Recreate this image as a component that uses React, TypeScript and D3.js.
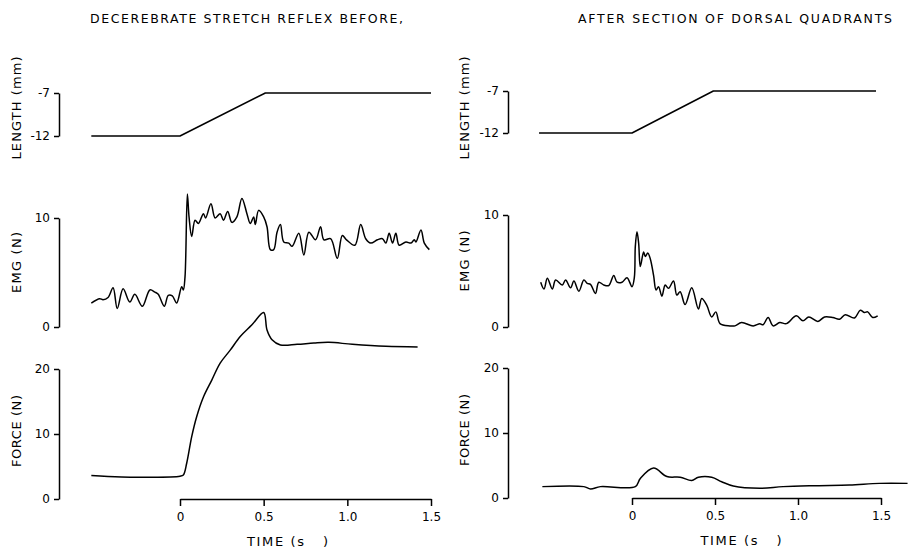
import React, { useEffect, useRef } from "react";
import * as d3 from "d3";

// ---------- DATA ----------
const titles = ["DECEREBRATE STRETCH REFLEX BEFORE,", "AFTER SECTION OF DORSAL QUADRANTS"];
const timeTicks = [0, 0.5, 1.0, 1.5];
const timeTickLabels = ["0", "0.5", "1.0", "1.5"];
const lengthTicks = [-7, -12];
const emgTicks = [10, 0];
const forceTicks = [20, 10, 0];

// Left (before)
const leftLengthTime = [-0.53, 0, 0.51, 1.5];
const leftLengthValue = [-12, -12, -7, -7];
const leftEmgTime = [-0.53, -0.48, -0.46, -0.43, -0.4, -0.375, -0.34, -0.3, -0.27, -0.225, -0.18, -0.15, -0.13, -0.094, -0.07, -0.046, -0.02, 0.01, 0.02, 0.03, 0.044, 0.054, 0.07, 0.09, 0.11, 0.14, 0.153, 0.185, 0.21, 0.24, 0.26, 0.285, 0.31, 0.34, 0.37, 0.4, 0.42, 0.44, 0.45, 0.47, 0.5, 0.52, 0.54, 0.56, 0.58, 0.6, 0.62, 0.65, 0.67, 0.71, 0.74, 0.77, 0.81, 0.84, 0.86, 0.9, 0.94, 0.97, 0.995, 1.045, 1.08, 1.11, 1.14, 1.18, 1.21, 1.23, 1.25, 1.27, 1.29, 1.31, 1.35, 1.38, 1.4, 1.41, 1.44, 1.46, 1.49];
const leftEmgValue = [2.2, 2.6, 2.5, 2.7, 3.6, 1.7, 3.5, 2.3, 3.0, 1.9, 3.4, 3.2, 3.0, 1.9, 2.9, 2.85, 2.2, 3.7, 3.4, 4.6, 12.2, 10.1, 8.3, 9.8, 9.5, 10.4, 10.0, 11.3, 10.0, 10.4, 9.8, 10.6, 9.6, 10.1, 11.8, 10.4, 9.5, 10.1, 9.4, 10.7, 10.1, 9.2, 7.1, 7.1, 8.7, 9.4, 7.8, 7.7, 7.4, 8.6, 6.6, 8.7, 8.0, 9.2, 8.0, 8.1, 6.3, 8.4, 8.0, 7.5, 9.4, 8.1, 7.7, 8.0, 8.1, 7.7, 8.6, 7.7, 8.6, 7.5, 7.8, 7.7, 8.0, 7.8, 8.9, 7.7, 7.1];
const leftForceTime = [-0.53, -0.35, 0.0, 0.02, 0.04, 0.07, 0.1, 0.14, 0.19, 0.24, 0.3, 0.36, 0.43, 0.5, 0.52, 0.55, 0.6, 0.7, 0.8, 0.89, 1.03, 1.23, 1.42];
const leftForceValue = [3.6, 3.4, 3.5, 3.7, 5.5, 9.6, 12.7, 15.7, 18.3, 20.9, 22.9, 25.0, 26.8, 28.7, 26.0, 24.5, 23.7, 23.8, 24.0, 24.1, 23.8, 23.5, 23.4];

// Right (after)
const rightLengthTime = [-0.56, 0, 0.49, 1.47];
const rightLengthValue = [-12, -12, -7, -7];
const rightEmgTime = [-0.55, -0.53, -0.51, -0.48, -0.46, -0.42, -0.4, -0.37, -0.35, -0.32, -0.29, -0.27, -0.25, -0.22, -0.2, -0.17, -0.14, -0.11, -0.09, -0.06, -0.03, 0.0, 0.014, 0.02, 0.03, 0.04, 0.05, 0.07, 0.08, 0.095, 0.11, 0.13, 0.145, 0.16, 0.18, 0.2, 0.22, 0.25, 0.27, 0.29, 0.32, 0.36, 0.4, 0.42, 0.45, 0.48, 0.505, 0.53, 0.59, 0.62, 0.66, 0.73, 0.77, 0.79, 0.82, 0.85, 0.89, 0.93, 0.99, 1.03, 1.065, 1.12, 1.16, 1.21, 1.25, 1.285, 1.34, 1.375, 1.4, 1.42, 1.45, 1.48];
const rightEmgValue = [4.0, 3.4, 4.35, 3.4, 4.2, 3.75, 4.2, 3.5, 4.1, 3.2, 4.2, 3.9, 3.8, 3.0, 4.0, 3.75, 3.7, 4.6, 4.0, 4.0, 4.4, 3.6, 4.4, 7.2, 8.5, 7.5, 5.4, 6.7, 6.3, 6.6, 6.1, 4.6, 3.3, 3.6, 2.75, 3.75, 3.45, 4.1, 2.85, 3.15, 2.0, 3.5, 1.6, 2.55, 1.95, 0.9, 1.35, 0.3, 0.1, 0.1, 0.4, 0.1, 0.3, 0.2, 0.85, 0.1, 0.4, 0.3, 1.0, 0.55, 0.9, 0.5, 0.9, 0.85, 0.7, 1.1, 0.8, 1.5, 1.3, 1.35, 0.85, 1.0];
const rightForceTime = [-0.54, -0.29, -0.25, -0.19, 0.02, 0.05, 0.13, 0.21, 0.29, 0.36, 0.4, 0.48, 0.54, 0.61, 0.77, 0.91, 1.11, 1.31, 1.49, 1.66];
const rightForceValue = [1.75, 1.75, 1.4, 1.75, 1.75, 3.0, 4.6, 3.3, 3.2, 2.7, 3.2, 3.2, 2.5, 1.85, 1.5, 1.75, 1.9, 2.0, 2.25, 2.25];

// ---------- LAYOUT ----------
type Panel = {
  title: string; titleX: number; titleW: number;
  axisX: number; labelX: number;
  x0: number; x15: number;
  len: [number, number]; emg: [number, number]; force: [number, number];
  timeAxisY: number; timeLabelX: number;
  lt: number[]; lv: number[]; et: number[]; ev: number[]; ft: number[]; fv: number[];
};

const panels: Panel[] = [
  {
    title: titles[0], titleX: 90, titleW: 313, axisX: 59, labelX: 16,
    x0: 180, x15: 431, len: [136, 93], emg: [327, 218], force: [499, 369],
    timeAxisY: 499, timeLabelX: 287.5,
    lt: leftLengthTime, lv: leftLengthValue, et: leftEmgTime, ev: leftEmgValue,
    ft: leftForceTime, fv: leftForceValue,
  },
  {
    title: titles[1], titleX: 578, titleW: 314, axisX: 508, labelX: 464,
    x0: 632, x15: 881, len: [133, 91], emg: [327, 215], force: [498, 368],
    timeAxisY: 498, timeLabelX: 741,
    lt: rightLengthTime, lv: rightLengthValue, et: rightEmgTime, ev: rightEmgValue,
    ft: rightForceTime, fv: rightForceValue,
  },
];

const FONT = "'DejaVu Sans', 'Liberation Sans', sans-serif";

function drawPanel(svg: any, p: Panel) {
  const g = svg.append("g");
  const xs = d3.scaleLinear().domain([0, 1.5]).range([p.x0, p.x15]);
  const yl = d3.scaleLinear().domain([-12, -7]).range(p.len);
  const ye = d3.scaleLinear().domain([0, 10]).range(p.emg);
  const yf = d3.scaleLinear().domain([0, 20]).range(p.force);

  // title
  g.append("text").attr("x", p.titleX).attr("y", 23).attr("font-size", 12.5).attr("font-family", FONT)
    .attr("textLength", p.titleW).attr("lengthAdjust", "spacing").text(p.title);

  // rotated labels
  const yMid = (r: [number, number]) => (r[0] + r[1]) / 2;
  const lab = (txt: string, cy: number, len: number) =>
    g.append("text").attr("transform", `translate(${p.labelX},${cy}) rotate(-90)`).attr("dy", "0.35em")
      .attr("text-anchor", "middle").attr("font-size", 13).attr("font-family", FONT)
      .attr("textLength", len).attr("lengthAdjust", "spacing").text(txt);
  lab("LENGTH (mm)", 108, 103);
  lab("EMG (N)", yMid(p.emg) - 10, 61);
  lab("FORCE (N)", yMid(p.force) - 3, 72);

  // y axes via d3.axisLeft
  const yAxis = (scale: any, ticks: number[]) => {
    const ax = g.append("g").attr("transform", `translate(${p.axisX},0)`)
      .call(d3.axisLeft(scale).tickValues(ticks).tickSize(5).tickPadding(4).tickSizeOuter(0).tickFormat((d: any) => String(d)));
    ax.select(".domain").attr("stroke", "#000").attr("stroke-width", 1.5);
    ax.selectAll(".tick line").attr("stroke", "#000").attr("stroke-width", 1.5);
    ax.selectAll(".tick text").attr("font-size", 12).attr("font-family", FONT).attr("fill", "#000");
  };
  yAxis(yl, lengthTicks);
  yAxis(ye, emgTicks);
  yAxis(yf, forceTicks);

  // time axis (ticks downwards)
  const tax = g.append("g").attr("transform", `translate(0,${p.timeAxisY})`)
    .call(d3.axisBottom(xs).tickValues(timeTicks).tickSize(7).tickPadding(6).tickSizeOuter(0)
      .tickFormat((_: any, i: number) => timeTickLabels[i]));
  tax.select(".domain").attr("stroke", "#000").attr("stroke-width", 1.5);
  tax.selectAll(".tick line").attr("stroke", "#000").attr("stroke-width", 1.5);
  tax.selectAll(".tick text").attr("font-size", 12).attr("font-family", FONT).attr("fill", "#000");

  g.append("text").attr("x", p.timeLabelX).attr("y", p.timeAxisY + 42).attr("dy", "0.35em")
    .attr("text-anchor", "middle").attr("font-size", 13).attr("font-family", FONT)
    .attr("textLength", 81).attr("lengthAdjust", "spacing").style("white-space", "pre").text("TIME (s   )");

  const mk = (t: number[], v: number[], ys: any, curve: any) =>
    d3.line<number>().x((_, i) => xs(t[i])).y((d) => ys(d)).curve(curve)(v) || "";
  [
    mk(p.lt, p.lv, yl, d3.curveLinear),
    mk(p.et, p.ev, ye, d3.curveCatmullRom.alpha(0.5)),
    mk(p.ft, p.fv, yf, d3.curveCatmullRom.alpha(0.5)),
  ].forEach((d) => {
    g.append("path").attr("d", d).attr("fill", "none").attr("stroke", "#000").attr("stroke-width", 1.5)
      .attr("stroke-linejoin", "round");
  });
}

export default function App() {
  const ref = useRef<SVGSVGElement>(null);
  useEffect(() => {
    const svg = d3.select(ref.current);
    svg.selectAll("*").remove();
    svg.append("rect").attr("width", 909).attr("height", 549).attr("fill", "#fff");
    panels.forEach((p) => drawPanel(svg, p));
  }, []);
  return (
    <svg ref={ref} width={909} height={549} viewBox="0 0 909 549" style={{ position: "absolute", left: 0, top: 0 }} />
  );
}
